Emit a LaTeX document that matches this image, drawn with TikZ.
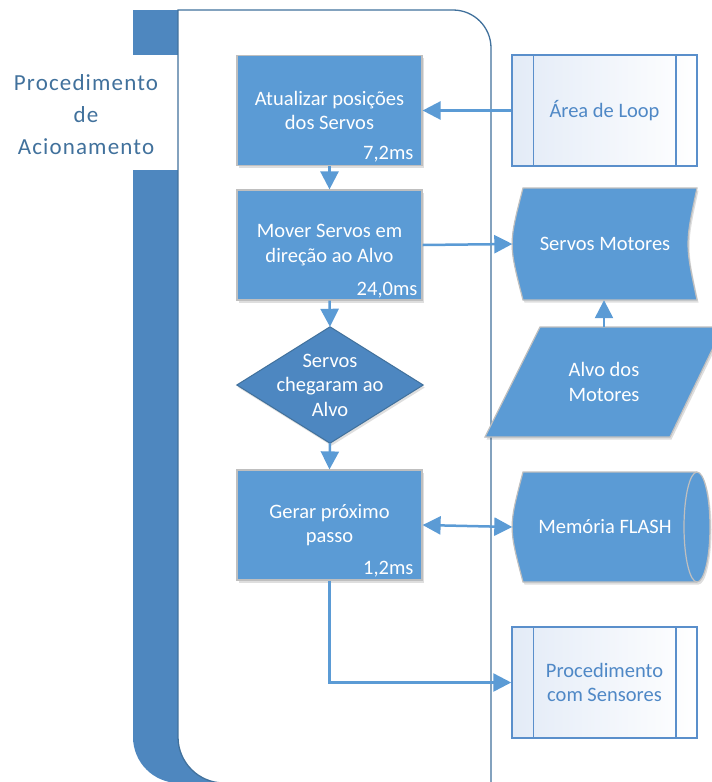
\documentclass[tikz,border=0pt]{standalone}
\usepackage{fontspec}
\setmainfont{Carlito}
\usetikzlibrary{arrows.meta,calc,shadows}
\pgfdeclarelayer{back}
\pgfdeclarelayer{background}
\pgfsetlayers{back,background,main}

\definecolor{boxblue}{HTML}{5B9BD5}
\definecolor{bandblue}{HTML}{4E87BF}
\definecolor{diablue}{HTML}{4D87C1}
\definecolor{rimblue}{HTML}{41719C}
\definecolor{subblue}{HTML}{5A8FCB}
\definecolor{subtext}{HTML}{4F88C6}
\definecolor{subfill}{HTML}{E3EBF7}
\definecolor{edgegrey}{HTML}{BFBFBF}

\tikzset{
  txt/.style={font=\fontsize{20.5}{24.5}\selectfont, align=center},
  softshadow/.style={drop shadow={shadow xshift=1.5pt, shadow yshift=-2.5pt, opacity=0.13, fill=black}},
  procbox/.style={txt, text=white, fill=boxblue, draw=edgegrey, line width=1.2pt,
    minimum width=185pt, minimum height=110pt, inner sep=0pt, softshadow},
  timelbl/.style={font=\fontsize{20.5}{24.5}\selectfont, text=white, inner sep=0pt, anchor=base east},
  ghost/.style={txt, text=white, minimum width=185pt, minimum height=111pt, inner sep=0pt},
  subbox/.style={txt, text=subtext, left color=subfill, right color=white, draw=subblue,
    line width=1.5pt, minimum width=185pt, minimum height=111pt, inner sep=0pt},
  storeshape/.style={fill=boxblue, draw=edgegrey, line width=1.2pt, softshadow},
  conn/.style={draw=boxblue, line width=2.5pt, -{Triangle[length=18pt,width=18pt]}},
}

\begin{document}
\begin{tikzpicture}[x=1pt, y=-1pt]
\useasboundingbox (0,0) rectangle (712,782);

% container: dark band with tab, label gap and white inner area
\begin{pgfonlayer}{back}
  \fill[bandblue] (133,10) -- (260,10) -- (260,783) -- (179,783)
    .. controls (153.6,783) and (133,762.4) .. (133,737) -- cycle;
  \fill[white] (133,55) rectangle (178,170);
  \filldraw[fill=white, draw=rimblue, line width=1.3pt]
    (178,10) -- (453,10) .. controls (474,10) and (491,27) .. (491,48)
    -- (491,783) -- (224,783) .. controls (198.6,783) and (178,762.4) .. (178,737) -- cycle;
\end{pgfonlayer}
\node[txt, text=rimblue, font=\fontsize{23}{32}\selectfont\addfontfeatures{LetterSpace=5}]
  (title) at (86,115) {Procedimento\\de\\Acionamento};

% process column
\node[procbox] (upd) at (329.5,110.5) {Atualizar posições\\dos Servos};
\node[timelbl] (t1) at ($(upd.south east)+(-9,-7)$) {7,2ms};
\node[procbox] (mov) at (329.5,245) {Mover Servos em\\direção ao Alvo};
\node[timelbl] (t2) at ($(mov.south east)+(-5,-5)$) {24,0ms};
\node[ghost, minimum width=186pt, minimum height=116pt] (dia) at (330,385) {Servos\\chegaram ao\\Alvo};
\node[procbox] (gen) at (329.5,525) {Gerar próximo\\passo};
\node[timelbl] (t3) at ($(gen.south east)+(-9,-6)$) {1,2ms};

% side elements
\node[subbox] (loop) at (604.5,110.5) {Área de Loop};
\node[ghost, minimum height=112pt] (serv) at (605,244) {Servos Motores};
\node[ghost, minimum height=110pt] (alvo) at (604,382) {Alvo dos\\Motores};
\node[ghost, minimum height=110pt] (flash) at (605,527) {Memória FLASH};
\node[subbox] (sens) at (604.5,682.5) {Procedimento\\com Sensores};

\begin{pgfonlayer}{background}
  % decision
  \filldraw[fill=diablue, draw=rimblue, line width=1pt, softshadow]
    (dia.north) -- (dia.east) -- (dia.south) -- (dia.west) -- cycle;
  % stored data
  \path[storeshape] (523,188) -- (697,188) .. controls (685,244) .. (697,300)
    -- (523,300) .. controls (508.5,244) .. (523,188) -- cycle;
  % data input
  \path[storeshape] (540,327) -- (723,327) -- (670,437) -- (485,437) -- cycle;
  % direct access storage
  \path[storeshape] (523,472) -- (697,472)
    .. controls (704.2,472) and (710,496.6) .. (710,527)
    .. controls (710,557.4) and (704.2,582) .. (697,582)
    -- (523,582) .. controls (508.5,527) .. (523,472) -- cycle;
\end{pgfonlayer}
\draw[edgegrey, line width=1.2pt] (697,472)
  .. controls (689.8,472) and (684,496.6) .. (684,527)
  .. controls (684,557.4) and (689.8,582) .. (697,582);

% subroutine side bars
\foreach \b in {loop, sens} {
  \draw[subblue, line width=1.5pt] ($(\b.north west)+(22,0)$) -- ($(\b.south west)+(22,0)$);
  \draw[subblue, line width=1.5pt] ($(\b.north east)+(-22,0)$) -- ($(\b.south east)+(-22,0)$);
}

% connectors
\draw[conn] (loop.west) -- (upd.east);
\draw[conn] (upd.south) -- (mov.north);
\draw[conn] (mov.east) -- (serv.west);
\draw[conn] (mov.south) -- (dia.north);
\draw[conn] (dia.south) -- (gen.north);
\draw[conn] (alvo.north) -- (alvo.north |- serv.south);
\draw[conn, {Triangle[length=18pt,width=18pt]}-{Triangle[length=18pt,width=18pt]}] (gen.east) -- (flash.west);
\draw[conn] (gen.south) |- (sens.west);
\end{tikzpicture}
\end{document}
